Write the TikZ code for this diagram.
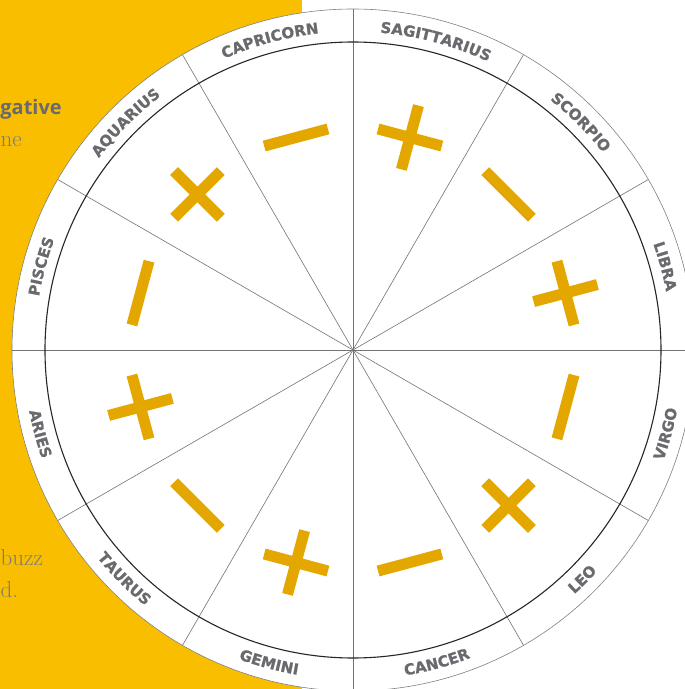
\documentclass[tikz,border=0pt]{standalone}
\usepackage{fontspec}
\usepackage{xcolor}
\usetikzlibrary{decorations.text}
\newfontfamily\lblfont{DejaVu Sans}[BoldFeatures={FakeBold=1}]
\newfontfamily\headfont{Open Sans}
\definecolor{bgyellow}{RGB}{249,190,0}
\definecolor{signgold}{RGB}{228,167,0}
\definecolor{lblgrey}{RGB}{105,106,110}
\definecolor{copygrey}{RGB}{122,123,127}
\newcommand{\lblstyle}{\lblfont\bfseries\fontsize{15}{15}\selectfont\color{lblgrey}}

\begin{document}
\begin{tikzpicture}[x=1pt,y=1pt,
	spoke/.style={draw=black!55, line width=0.6pt},
	sgn/.style={draw=signgold, line width=11pt, line cap=butt},
	lbl/.style={decorate, decoration={text along path, text align=center, text={|\lblstyle|#1}}},
	copy/.style={anchor=base west, inner sep=0pt, text=copygrey, font=\fontsize{23}{27}\selectfont}]
	\useasboundingbox (-353,-339) rectangle (332,350);
	\clip (-353,-339) rectangle (332,350);
	\fill[bgyellow] (-353,-339) rectangle (-51,350);
	\coordinate (c) at (0,0);
	\filldraw[fill=white, draw=black!50, line width=0.6pt] (c) circle[radius=341];
	\foreach \a in {0,30,...,150}
		\draw[spoke] (\a:341) -- (\a+180:341);
	\draw[black!85, line width=1.1pt] (c) circle[radius=308];

	\foreach \a in {75,15,-45,-105,-165,135}
		\draw[sgn, shift={(\a:220)}, rotate=\a-90] (-33,0) -- (33,0) (0,-33) -- (0,33);
	\foreach \a in {45,-15,-75,-135,165,105}
		\draw[sgn, shift={(\a:220)}, rotate=\a-90] (-33,0) -- (33,0);

	\path[lbl=SAGITTARIUS] (90:318.5) arc[start angle=90, end angle=60, radius=318.5];
	\path[lbl=SCORPIO] (60:318.5) arc[start angle=60, end angle=30, radius=318.5];
	\path[lbl=LIBRA] (30:318.5) arc[start angle=30, end angle=0, radius=318.5];
	\path[lbl=CAPRICORN] (120:318.5) arc[start angle=120, end angle=90, radius=318.5];
	\path[lbl=AQUARIUS] (150:318.5) arc[start angle=150, end angle=120, radius=318.5];
	\path[lbl=PISCES] (180:318.5) arc[start angle=180, end angle=150, radius=318.5];
	\path[lbl=VIRGO] (-30:329.5) arc[start angle=-30, end angle=0, radius=329.5];
	\path[lbl=LEO] (-60:329.5) arc[start angle=-60, end angle=-30, radius=329.5];
	\path[lbl=CANCER] (-90:329.5) arc[start angle=-90, end angle=-60, radius=329.5];
	\path[lbl=GEMINI] (-120:329.5) arc[start angle=-120, end angle=-90, radius=329.5];
	\path[lbl=TAURUS] (-150:329.5) arc[start angle=-150, end angle=-120, radius=329.5];
	\path[lbl=ARIES] (-180:329.5) arc[start angle=-180, end angle=-150, radius=329.5];

	\node[copy, anchor=base east, text=lblgrey, font=\headfont\bfseries\fontsize{20}{24}\selectfont] (neg) at (-291,236) {gative};
	\node[copy] (the) at (-352.5,204) {ne};
	\node[copy] (buzz) at (-352.5,-215) {buzz};
	\node[copy] (end) at (-352.5,-247) {d.};
\end{tikzpicture}
\end{document}
